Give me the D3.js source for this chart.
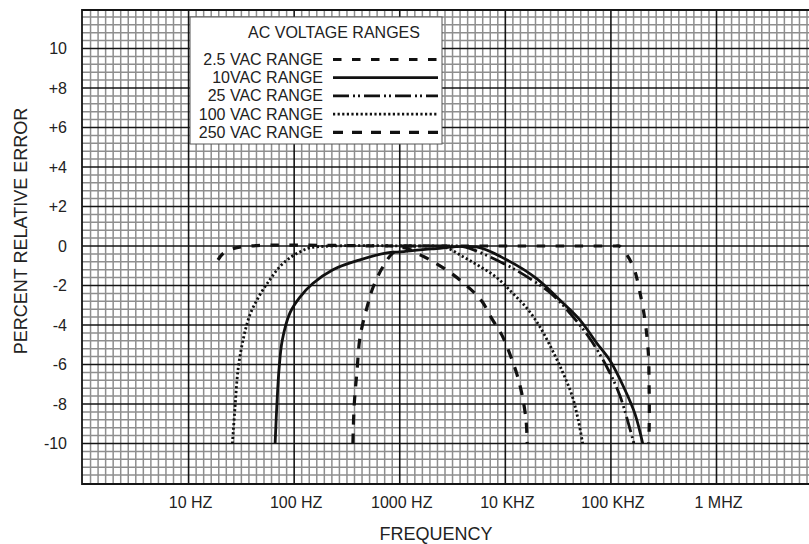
<!DOCTYPE html>
<html>
<head>
<meta charset="utf-8">
<script src="https://cdn.jsdelivr.net/npm/d3@7"></script>
<style>
  html, body { margin: 0; padding: 0; background: #fff; }
  svg { display: block; }
  text { font-family: "Liberation Sans", Arial, sans-serif; fill: #222; }
</style>
</head>
<body>
<div id="chart"></div>
<script>
// ─── Data (frequency in Hz, percent relative error) ───
const xTickValues = [10, 100, 1000, 1e4, 1e5, 1e6];
const xTickLabels = ["10 HZ", "100 HZ", "1000 HZ", "10 KHZ", "100 KHZ", "1 MHZ"];
const yTickValues = [10, 8, 6, 4, 2, 0, -2, -4, -6, -8, -10];
const yTickLabels = ["10", "+8", "+6", "+4", "+2", "0", "-2", "-4", "-6", "-8", "-10"];

const legendTitle = "AC VOLTAGE RANGES";
const seriesNames = ["2.5 VAC RANGE", "10VAC RANGE", "25 VAC RANGE", "100 VAC RANGE", "250 VAC RANGE"];

const vac2p5 = [
  [19, -0.7], [21, -0.4], [26, -0.15], [38, 0], [1000, 0], [110000, 0],
  [120000, 0], [131000, -0.2], [163000, -1.05], [189000, -2.4],
  [210000, -3.75], [226000, -5.4], [230000, -7.1], [231000, -8.8],
  [228000, -10],
];
const vac10 = [
  [66, -10], [68.5, -8.1], [72, -6.2], [77, -4.8], [91, -3.4], [113, -2.6],
  [150, -1.9], [233, -1.2], [420, -0.7], [760, -0.35], [1000, -0.3],
  [2000, -0.15], [5300, -0.05], [10300, -0.7], [19800, -1.65], [33000, -2.75],
  [51000, -3.75], [73000, -4.9], [98000, -5.8], [131000, -7.1],
  [169000, -8.5], [200000, -10],
];
const vac25 = [
  [1000, 0], [3000, 0], [3700, 0], [4600, -0.12], [9600, -0.88],
  [17100, -1.65], [28400, -2.5], [44000, -3.6], [63400, -4.7],
  [91000, -6.1], [122000, -7.6], [165000, -10],
];
const vac100 = [
  [26, -10], [27.5, -8.2], [29.5, -6.2], [33, -4.7], [38, -3.5], [47, -2.5],
  [59, -1.7], [73, -1.05], [91, -0.6], [113, -0.3], [140, -0.1], [230, 0],
  [1500, 0], [2100, 0], [2800, -0.1], [4000, -0.55], [5800, -1.05],
  [8300, -1.6], [11800, -2.4], [16000, -3.15], [21300, -4.1], [28000, -5.3],
  [35000, -6.4], [43000, -7.6], [49000, -8.8], [54000, -10],
];
const vac250 = [
  [360, -10], [370, -8.1], [394, -6.3], [421, -4.6], [490, -3.1],
  [558, -2.1], [693, -1.05], [863, -0.35], [1070, -0.08], [1560, -0.45],
  [2240, -0.9], [3200, -1.45], [4600, -2.15], [6000, -2.8], [7400, -3.65],
  [9250, -4.5], [11000, -5.45], [12800, -6.45], [14300, -7.45],
  [15700, -8.8], [16100, -10],
];
const seriesData = [vac2p5, vac10, vac25, vac100, vac250];

// ─── Line styles, one per range ───
const LINE_STYLES = [
  { dash: "8.5,10.5", width: 3.2 },
  { dash: null, width: 2.8 },
  { dash: "16,4,2,3,2,4", width: 2.8 },
  { dash: "2.2,2.4", width: 2.8 },
  { dash: "10,9", width: 3.2 },
];

const W = 809, H = 544;
const LEFT = 82, RIGHT = 809, TOP = 10, BOTTOM = 484;

const svg = d3.select("#chart").append("svg")
  .attr("width", W).attr("height", H);

svg.append("rect").attr("width", W).attr("height", H).attr("fill", "#fff");

const x = d3.scaleLog().domain([1, 1e6]).range([83, 716.5]);
const y = d3.scaleLinear().domain([-12, 12]).range([483, 9]);

// ── Graph-paper grid ──
const grid = svg.append("g");

// 14 equal sub-divisions per decade, 5 per 2 % step
const fMax = x.invert(RIGHT);
const vSteps = d3.range(0, Math.floor(14 * Math.log10(fMax)) + 1);
const hSteps = d3.range(0, 61);

grid.selectAll("line.vminor")
  .data(vSteps.filter((k) => k % 14 !== 0))
  .join("line")
  .attr("x1", (k) => x(Math.pow(10, k / 14)))
  .attr("x2", (k) => x(Math.pow(10, k / 14)))
  .attr("y1", TOP).attr("y2", BOTTOM)
  .attr("stroke", "#8e8e8e").attr("stroke-width", 1.5);

grid.selectAll("line.hminor")
  .data(hSteps.filter((i) => i % 5 !== 0))
  .join("line")
  .attr("x1", LEFT).attr("x2", RIGHT)
  .attr("y1", (i) => y(-12 + i * 0.4))
  .attr("y2", (i) => y(-12 + i * 0.4))
  .attr("stroke", "#8e8e8e").attr("stroke-width", 1.5);

grid.selectAll("line.vmajor")
  .data(xTickValues)
  .join("line")
  .attr("x1", (d) => x(d)).attr("x2", (d) => x(d))
  .attr("y1", TOP).attr("y2", BOTTOM)
  .attr("stroke", "#151515").attr("stroke-width", 1.6);

grid.selectAll("line.hmajor")
  .data(yTickValues)
  .join("line")
  .attr("x1", LEFT).attr("x2", RIGHT)
  .attr("y1", (d) => y(d)).attr("y2", (d) => y(d))
  .attr("stroke", "#151515").attr("stroke-width", 1.6);

// Border: left, top, bottom (grid runs off the right edge)
grid.append("path")
  .attr("d", `M${RIGHT},${TOP}H${LEFT}V${BOTTOM}H${RIGHT}`)
  .attr("fill", "none")
  .attr("stroke", "#151515")
  .attr("stroke-width", 1.8);

// ── Curves ──
const line = d3.line()
  .x((d) => x(d[0]))
  .y((d) => y(d[1]))
  .curve(d3.curveCatmullRom.alpha(0.5));

svg.append("g")
  .selectAll("path.curve")
  .data(seriesData)
  .join("path")
  .attr("class", "curve")
  .attr("d", line)
  .attr("fill", "none")
  .attr("stroke", "#111")
  .attr("stroke-width", (d, i) => LINE_STYLES[i].width)
  .attr("stroke-dasharray", (d, i) => LINE_STYLES[i].dash);

// ── Legend ──
const lg = svg.append("g");
lg.append("rect")
  .attr("x", 190).attr("y", 17)
  .attr("width", 252).attr("height", 127)
  .attr("fill", "#fff")
  .attr("stroke", "#555")
  .attr("stroke-width", 1);

lg.append("text")
  .attr("x", 334).attr("y", 38)
  .attr("text-anchor", "middle")
  .style("font-size", "16px")
  .text(legendTitle);

const rowY = (i) => 65 + i * 18.2;

lg.selectAll("text.entry")
  .data(seriesNames)
  .join("text")
  .attr("class", "entry")
  .attr("x", 323)
  .attr("y", (d, i) => rowY(i))
  .attr("text-anchor", "end")
  .style("font-size", "16px")
  .text((d) => d);

lg.selectAll("line.sample")
  .data(seriesNames)
  .join("line")
  .attr("class", "sample")
  .attr("x1", 333).attr("x2", 438)
  .attr("y1", (d, i) => rowY(i) - 5.5)
  .attr("y2", (d, i) => rowY(i) - 5.5)
  .attr("stroke", "#111")
  .attr("stroke-width", (d, i) => LINE_STYLES[i].width)
  .attr("stroke-dasharray", (d, i) => LINE_STYLES[i].dash);

// ── Tick labels ──
svg.append("g")
  .selectAll("text")
  .data(yTickValues)
  .join("text")
  .attr("x", 67)
  .attr("y", (d) => y(d) + 5.5)
  .attr("text-anchor", "end")
  .style("font-size", "16px")
  .text((d, i) => yTickLabels[i]);

svg.append("g")
  .selectAll("text")
  .data(xTickValues)
  .join("text")
  .attr("x", (d) => x(d) + 2)
  .attr("y", 508)
  .attr("text-anchor", "middle")
  .style("font-size", "16px")
  .text((d, i) => xTickLabels[i]);

// ── Axis titles ──
svg.append("text")
  .attr("x", 436).attr("y", 540)
  .attr("text-anchor", "middle")
  .style("font-size", "18px")
  .text("FREQUENCY");

svg.append("text")
  .attr("transform", "translate(27,231) rotate(-90)")
  .attr("text-anchor", "middle")
  .style("font-size", "18px")
  .text("PERCENT RELATIVE ERROR");
</script>
</body>
</html>
